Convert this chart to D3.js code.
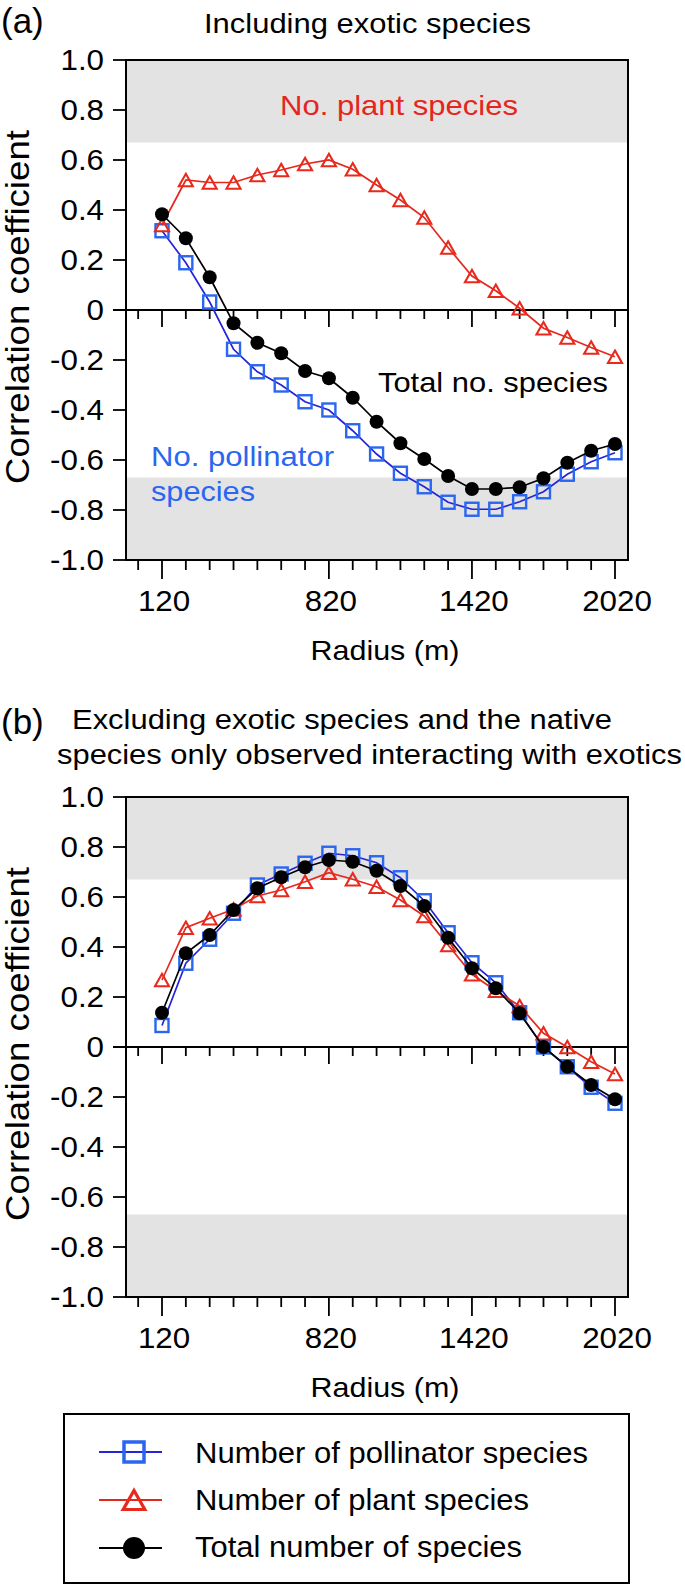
<!DOCTYPE html>
<html><head><meta charset="utf-8">
<script src="https://cdn.jsdelivr.net/npm/d3@7"></script>
<style>
body{margin:0;background:#fff}
svg{display:block}
text{font-family:"Liberation Sans", Arial, Helvetica, sans-serif}
</style>
</head><body>
<svg id="chart" width="685" height="1585"></svg>
<script>
// ---------------- data ----------------
const radius = [120,220,320,420,520,620,720,820,920,1020,1120,1220,1320,1420,1520,1620,1720,1820,1920,2020];
const xTickLabels = [120, 820, 1420, 2020];
const yTickValues = [1.0,0.8,0.6,0.4,0.2,0,-0.2,-0.4,-0.6,-0.8,-1.0];
const significance = 0.67;

// (a) including exotic species
const aPollinator = [0.317,0.189,0.032,-0.157,-0.247,-0.300,-0.367,-0.400,-0.483,-0.576,-0.653,-0.707,-0.769,-0.797,-0.797,-0.767,-0.727,-0.657,-0.607,-0.571];
const aPlant      = [0.340,0.520,0.510,0.510,0.540,0.560,0.584,0.600,0.563,0.500,0.440,0.370,0.250,0.136,0.077,0.007,-0.073,-0.110,-0.150,-0.187];
const aTotal      = [0.383,0.287,0.131,-0.053,-0.131,-0.173,-0.244,-0.273,-0.351,-0.447,-0.533,-0.596,-0.664,-0.716,-0.716,-0.709,-0.673,-0.611,-0.563,-0.536];

// (b) excluding exotic species
const bPollinator = [0.086,0.335,0.431,0.535,0.648,0.692,0.735,0.775,0.765,0.737,0.677,0.585,0.457,0.337,0.257,0.137,0.000,-0.079,-0.161,-0.225];
const bPlant      = [0.268,0.477,0.515,0.551,0.604,0.628,0.661,0.697,0.671,0.641,0.588,0.524,0.408,0.291,0.225,0.164,0.055,0.000,-0.059,-0.108];
const bTotal      = [0.137,0.375,0.448,0.548,0.635,0.679,0.719,0.748,0.741,0.705,0.644,0.564,0.437,0.315,0.235,0.135,0.000,-0.079,-0.152,-0.209];

const seriesNames = ["Number of pollinator species","Number of plant species","Total number of species"];

// ---------------- styles ----------------
const BLUE_LINE = "#2424d8", BLUE_MK = "#2a66f0";
const RED_LINE = "#e4281e", RED_MK = "#e8291c", RED_TXT = "#e5261c";
const BLACK = "#000";
const GRAY = "#e3e3e3";
const SX = 1.08; // horizontal glyph stretch

const svg = d3.select("#chart");

function txt(g, s, x, y, o = {}) {
  const t = g.append("text")
    .attr("x", x).attr("y", y)
    .attr("font-size", o.size || 28)
    .attr("text-anchor", o.anchor || "start")
    .attr("fill", o.fill || "#000")
    .text(s);
  if (o.len) t.attr("textLength", o.len).attr("lengthAdjust", "spacingAndGlyphs");
  return t;
}
function stxt(g, s, x, y, o = {}) {
  const t = g.append("text")
    .attr("transform", `translate(${x},${y}) scale(${o.sx || SX},1)`)
    .attr("font-size", o.size || 29)
    .attr("text-anchor", o.anchor || "start")
    .attr("fill", o.fill || "#000")
    .text(s);
  return t;
}

const x = d3.scaleLinear().domain([120, 2020]).range([162, 615]);
const FRAME_L = 126, FRAME_R = 628;
const minorTicks = d3.range(20, 2021, 100);

function marker(g, type, cx, cy, size) {
  if (type === "square") {
    g.append("rect").attr("x", cx - size/2).attr("y", cy - size/2)
      .attr("width", size).attr("height", size)
      .attr("fill", "none").attr("stroke", BLUE_MK).attr("stroke-width", size > 15 ? 3.5 : 2.4);
  } else if (type === "triangle") {
    const w = size * 1.08, h = size * 0.95;
    g.append("path")
      .attr("d", `M${cx},${cy - h/2} L${cx + w/2},${cy + h/2} L${cx - w/2},${cy + h/2} Z`)
      .attr("fill", "none").attr("stroke", RED_MK).attr("stroke-width", size > 15 ? 3.2 : 2.1)
      .attr("stroke-linejoin", "miter");
  } else {
    g.append("circle").attr("cx", cx).attr("cy", cy).attr("r", size/2).attr("fill", BLACK);
  }
}

function panel(top, bottom, data) {
  const y = d3.scaleLinear().domain([-1, 1]).range([bottom, top]);
  const g = svg.append("g");

  // significance bands
  g.append("rect").attr("x", FRAME_L).attr("y", y(1)).attr("width", FRAME_R - FRAME_L)
    .attr("height", y(significance) - y(1)).attr("fill", GRAY);
  g.append("rect").attr("x", FRAME_L).attr("y", y(-significance)).attr("width", FRAME_R - FRAME_L)
    .attr("height", y(-1) - y(-significance)).attr("fill", GRAY);

  // zero line with ticks
  g.append("line").attr("x1", FRAME_L - 13).attr("x2", FRAME_R).attr("y1", y(0)).attr("y2", y(0))
    .attr("stroke", "#000").attr("stroke-width", 2);
  minorTicks.forEach(v => {
    const major = xTickLabels.includes(v);
    g.append("line").attr("x1", x(v)).attr("x2", x(v)).attr("y1", y(0)).attr("y2", y(0) + (major ? 17 : 9))
      .attr("stroke", "#000").attr("stroke-width", 1.8);
  });

  // bottom ticks
  minorTicks.forEach(v => {
    const major = xTickLabels.includes(v);
    g.append("line").attr("x1", x(v)).attr("x2", x(v)).attr("y1", bottom).attr("y2", bottom + (major ? 19 : 10))
      .attr("stroke", "#000").attr("stroke-width", 1.8);
  });
  xTickLabels.forEach(v => {
    stxt(g, String(v), x(v) + 2, bottom + 51, {anchor: "middle", size: 29});
  });

  // y ticks and labels
  yTickValues.forEach(v => {
    g.append("line").attr("x1", FRAME_L - 13).attr("x2", FRAME_L).attr("y1", y(v)).attr("y2", y(v))
      .attr("stroke", "#000").attr("stroke-width", 1.8);
    stxt(g, v === 0 ? "0" : v.toFixed(1), 104, y(v) + 10, {anchor: "end", size: 29});
  });

  // series
  const line = d3.line().x((d, i) => x(radius[i])).y(d => y(d));
  const series = [
    {vals: data.pollinator, color: BLUE_LINE, type: "square"},
    {vals: data.plant, color: RED_LINE, type: "triangle"},
    {vals: data.total, color: BLACK, type: "circle"}
  ];
  series.forEach(s => {
    g.append("path").datum(s.vals).attr("d", line).attr("fill", "none")
      .attr("stroke", s.color).attr("stroke-width", 1.7);
    s.vals.forEach((v, i) => marker(g, s.type, x(radius[i]), y(v), s.type === "circle" ? 14 : 13));
  });

  // frame
  g.append("rect").attr("x", FRAME_L).attr("y", top).attr("width", FRAME_R - FRAME_L).attr("height", bottom - top)
    .attr("fill", "none").attr("stroke", "#000").attr("stroke-width", 2);

  // axis titles
  txt(g, "Radius (m)", 385, bottom + 100, {anchor: "middle", size: 28, len: 149});
  const yc = y(0) - 3;
  g.append("text")
    .attr("transform", `translate(28.5,${yc}) rotate(-90)`)
    .attr("text-anchor", "middle").attr("font-size", 33)
    .attr("textLength", 354).attr("lengthAdjust", "spacingAndGlyphs")
    .text("Correlation coefficient");
  return {g, y};
}

// Panel (a)
const pa = panel(60, 560, {pollinator: aPollinator, plant: aPlant, total: aTotal});
txt(svg, "(a)", 1, 33, {size: 35});
txt(svg, "Including exotic species", 204, 33, {size: 27, len: 327});
txt(svg, "No. plant species", 280, 115, {size: 28, len: 238, fill: RED_TXT});
txt(svg, "Total no. species", 378, 392, {size: 28, len: 230});
txt(svg, "No. pollinator", 151, 466, {size: 28, len: 183, fill: BLUE_MK});
txt(svg, "species", 151, 501, {size: 28, len: 104, fill: BLUE_MK});

// Panel (b)
const pb = panel(797, 1297, {pollinator: bPollinator, plant: bPlant, total: bTotal});
txt(svg, "(b)", 1, 734, {size: 35});
txt(svg, "Excluding exotic species and the native", 72, 729, {size: 27, len: 540});
txt(svg, "species only observed interacting with exotics", 57, 764, {size: 27, len: 625});

// Legend
const lg = svg.append("g");
lg.append("rect").attr("x", 64).attr("y", 1414).attr("width", 565).attr("height", 169)
  .attr("fill", "none").attr("stroke", "#000").attr("stroke-width", 2);
const legendRows = [
  {name: seriesNames[0], color: BLUE_LINE, type: "square", y: 1452, base: 1463, len: 393},
  {name: seriesNames[1], color: RED_LINE, type: "triangle", y: 1500, base: 1510, len: 334},
  {name: seriesNames[2], color: BLACK, type: "circle", y: 1548, base: 1557, len: 327}
];
legendRows.forEach(r => {
  lg.append("line").attr("x1", 99).attr("x2", 162).attr("y1", r.y).attr("y2", r.y)
    .attr("stroke", r.color).attr("stroke-width", 1.8);
  marker(lg, r.type, 134, r.y, r.type === "circle" ? 22 : 20);
  txt(lg, r.name, 195, r.base, {size: 29, len: r.len});
});
</script>
</body></html>
